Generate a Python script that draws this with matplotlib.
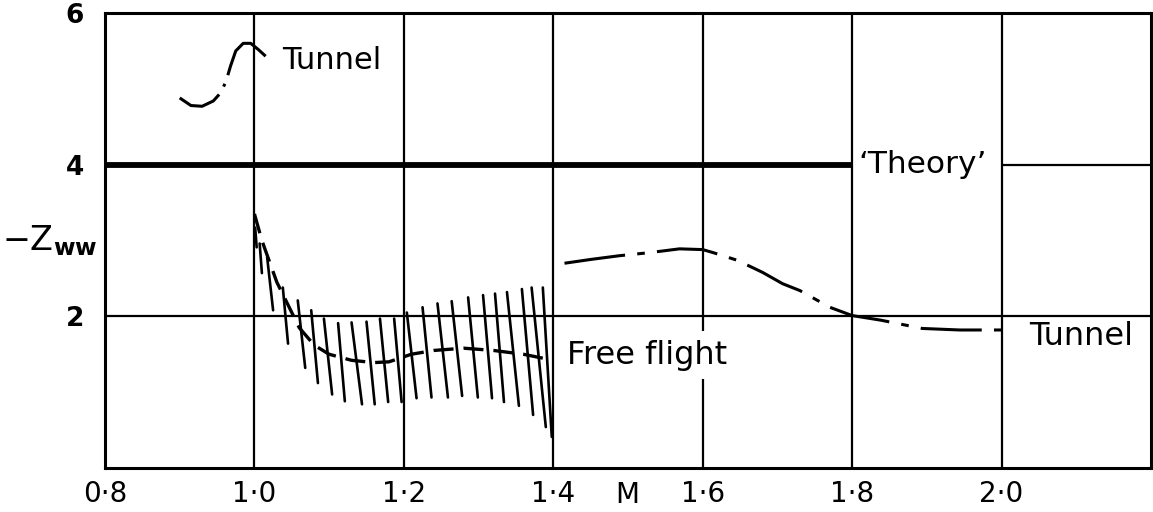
import matplotlib
matplotlib.use("Agg")
import matplotlib.pyplot as plt

plt.rcParams['font.family'] = ['DejaVu Sans']
plt.rcParams['mathtext.default'] = 'regular'

# ---- data ----
x_ticks = [0.8, 1.0, 1.2, 1.4, 1.6, 1.8, 2.0]
x_tick_labels = ['0·8', '1·0', '1·2', '1·4', '1·6', '1·8', '2·0']
y_ticks = [2, 4, 6]
y_tick_labels = ['2', '4', '6']

theory_m = [0.8, 1.8]
theory_val = [4.0, 4.0]

tunnel_low_m = [0.900, 0.915, 0.930, 0.945, 0.955, 0.962, 0.968, 0.975, 0.985, 0.995, 1.005, 1.015]
tunnel_low_val = [4.88, 4.78, 4.77, 4.84, 4.95, 5.10, 5.30, 5.50, 5.60, 5.60, 5.52, 5.43]

tunnel_high_m = [1.415, 1.45, 1.489, 1.529, 1.569, 1.60, 1.614, 1.646, 1.68, 1.707, 1.730,
                 1.77, 1.80, 1.838, 1.894, 1.944, 2.01]
tunnel_high_val = [2.70, 2.75, 2.80, 2.84, 2.89, 2.88, 2.84, 2.74, 2.58, 2.43, 2.34,
                   2.12, 2.01, 1.95, 1.84, 1.82, 1.82]

flight_m = [1.000, 1.010, 1.030, 1.060, 1.080, 1.100, 1.130, 1.160, 1.180, 1.210,
            1.240, 1.280, 1.320, 1.360, 1.400]
flight_val = [3.35, 3.00, 2.45, 1.85, 1.62, 1.50, 1.42, 1.39, 1.40, 1.50,
              1.55, 1.58, 1.55, 1.50, 1.42]

# scatter band (hatching): each stroke from (m_top, top) to (m_bot, bot)
band_m_top = [1.001, 1.007, 1.017, 1.038, 1.058, 1.076, 1.093, 1.112, 1.130, 1.150, 1.168, 1.187,
              1.204, 1.225, 1.245, 1.264, 1.286, 1.306, 1.322, 1.338, 1.358, 1.371, 1.386]
band_top = [3.17, 2.96, 2.78, 2.38, 2.21, 2.08, 1.97, 1.91, 1.92, 1.93, 1.97, 1.97,
            2.05, 2.12, 2.17, 2.20, 2.25, 2.28, 2.30, 2.32, 2.36, 2.38, 2.38]
band_m_bot = [1.003, 1.010, 1.025, 1.045, 1.068, 1.085, 1.104, 1.121, 1.144, 1.161, 1.179, 1.197,
              1.217, 1.237, 1.259, 1.278, 1.299, 1.318, 1.334, 1.354, 1.373, 1.390, 1.398]
band_bot = [2.91, 2.57, 2.08, 1.64, 1.32, 1.12, 0.97, 0.88, 0.84, 0.84, 0.87, 0.87,
            0.92, 0.93, 0.93, 0.95, 0.93, 0.92, 0.87, 0.82, 0.70, 0.54, 0.41]

# ---- figure ----
fig = plt.figure(figsize=(11.53, 5.12), dpi=100)
ax = fig.add_axes([105/1153, 44/512, 1046/1153, 455/512])
ax.set_xlim(0.8, 2.2)
ax.set_ylim(0, 6)

# grid
ax.set_xticks(x_ticks)
ax.set_xticklabels(x_tick_labels, fontsize=20)
ax.set_yticks(y_ticks)
ax.set_yticklabels(y_tick_labels, fontsize=19, fontweight='bold')
ax.tick_params(length=0, pad=9)
ax.tick_params(axis='y', pad=15)
ax.grid(axis='x', color='black', lw=1.6)
ax.set_axisbelow(True)
ax.axhline(2, color='black', lw=1.6, zorder=0.5)
ax.hlines(4, 2.0, 2.2, color='black', lw=1.6, zorder=0.5)
for s in ax.spines.values():
    s.set_linewidth(2.2)

# theory
ax.plot(theory_m, theory_val, color='black', lw=4.2, solid_capstyle='butt', zorder=3)

# tunnel curves
ax.plot(tunnel_low_m, tunnel_low_val, color='black', lw=2.2,
        linestyle=(0, (15, 3, 1, 3, 30, 3)), zorder=3)
ax.plot(tunnel_high_m, tunnel_high_val, color='black', lw=2.2, linestyle=(0, (20, 4, 2.5, 4)), zorder=3)

# free flight band + curve
for mt, t, mb, b in zip(band_m_top, band_top, band_m_bot, band_bot):
    ax.plot([mt, mb], [t, b], color='black', lw=1.9, solid_capstyle='round', zorder=3)
ax.plot(flight_m, flight_val, color='black', lw=2.4, linestyle=(0, (6, 3)), zorder=4)

# annotations
ax.text(1.037, 5.37, 'Tunnel', fontsize=22, va='center', ha='left')
ax.text(1.808, 4.0, '‘Theory’', fontsize=22.5, va='center', ha='left',
        bbox=dict(facecolor='white', edgecolor='none', pad=2), zorder=5)
ax.text(2.037, 1.73, 'Tunnel', fontsize=23, va='center', ha='left')
ax.text(1.418, 1.49, 'Free flight', fontsize=23, va='center', ha='left',
        bbox=dict(facecolor='white', edgecolor='none', pad=6), zorder=5)

# axis labels
ax.set_xlabel('M', fontsize=20)
ax.xaxis.set_label_coords(0.499, -0.06)
ax.xaxis.label.set_va('center')
ax.set_ylabel(r'$-Z_{\mathbf{ww}}$', fontsize=24, rotation=0)
ax.yaxis.set_label_coords(-0.053, 0.50)
ax.yaxis.label.set_va('center')
ax.yaxis.label.set_ha('center')

fig.savefig('out.png', dpi=100)
